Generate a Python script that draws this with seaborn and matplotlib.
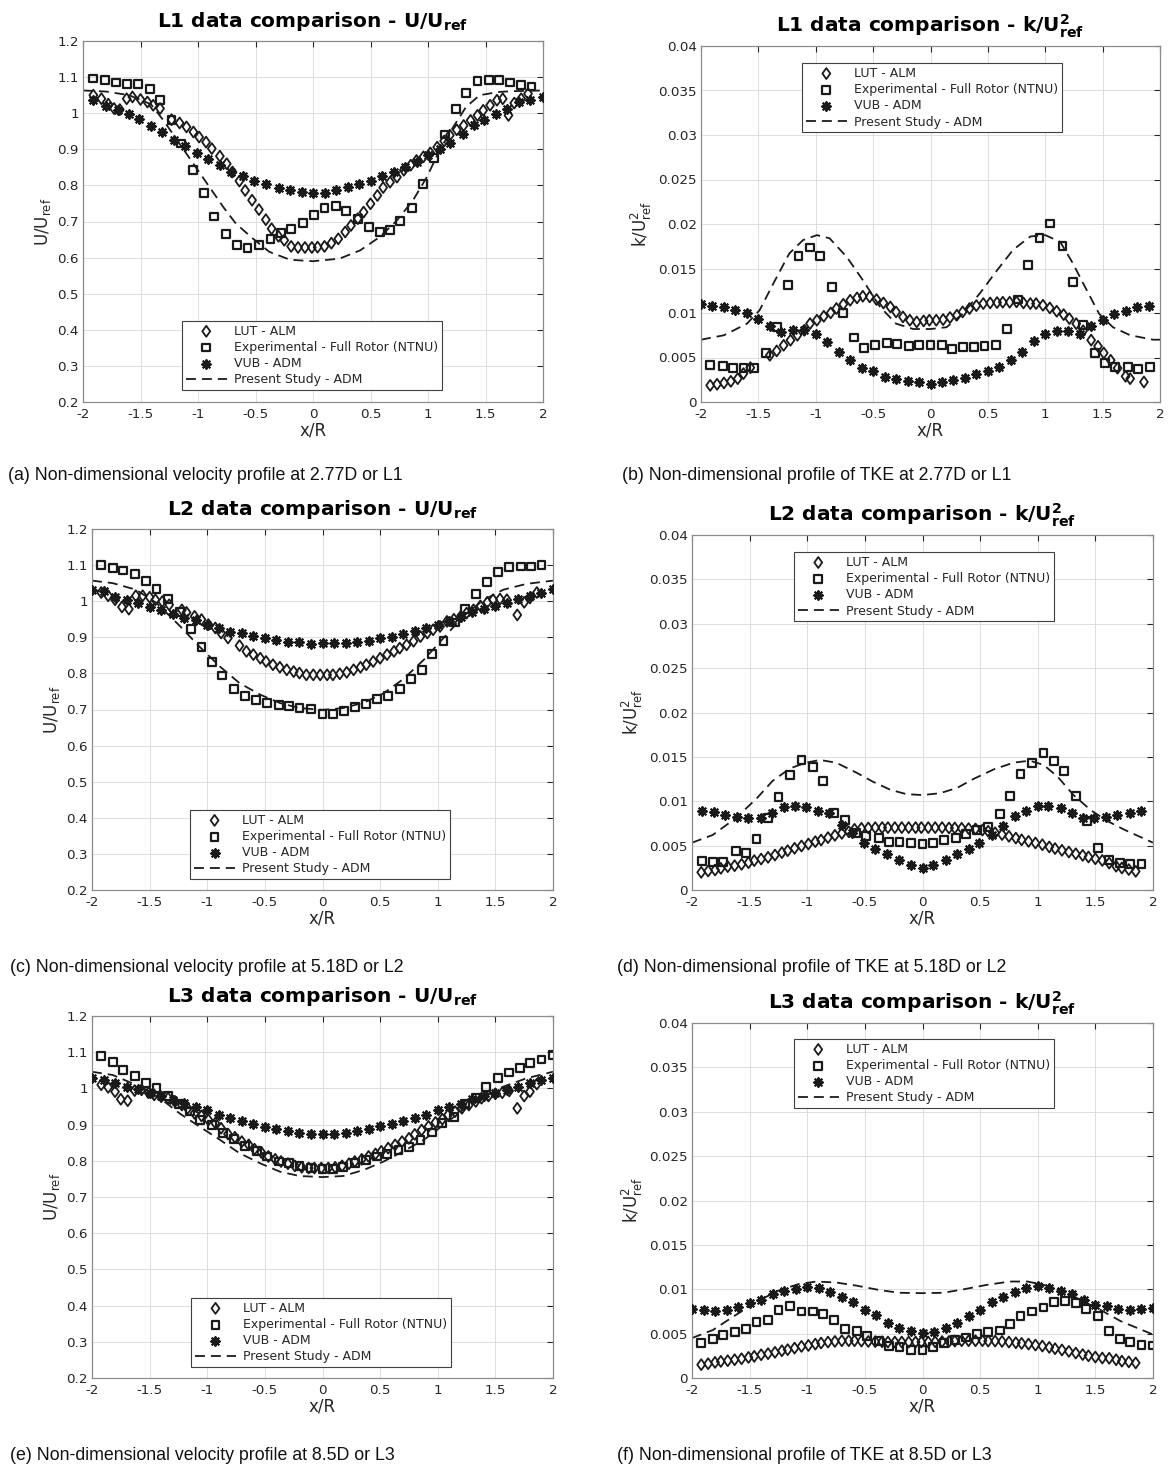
import numpy as np
import matplotlib
matplotlib.use("Agg")
import matplotlib.pyplot as plt
import seaborn as sns
from matplotlib.path import Path
from matplotlib.ticker import MultipleLocator, FuncFormatter

# ---------------------------------------------------------------- data
grid_41 = [-2.0, -1.9, -1.8, -1.7, -1.6, -1.5, -1.4, -1.3, -1.2, -1.1, -1.0,
           -0.9, -0.8, -0.7, -0.6, -0.5, -0.4, -0.3, -0.2, -0.1, 0.0,
           0.1, 0.2, 0.3, 0.4, 0.5, 0.6, 0.7, 0.8, 0.9, 1.0,
           1.1, 1.2, 1.3, 1.4, 1.5, 1.6, 1.7, 1.8, 1.9, 2.0]

# L1 velocity
a_lut_x = [-1.91, -1.84, -1.78, -1.73, -1.68, -1.62, -1.57, -1.50, -1.44, -1.39,
           -1.33, -1.23, -1.16, -1.10, -1.04, -0.99, -0.93, -0.88, -0.81, -0.75,
           -0.70, -0.64, -0.59, -0.53, -0.47, -0.41, -0.36, -0.30, -0.25, -0.19,
           -0.13, -0.07, -0.01, 0.04, 0.10, 0.16, 0.22, 0.28, 0.33, 0.39,
           0.44, 0.50, 0.56, 0.61, 0.67, 0.73, 0.79, 0.85, 0.90, 0.96,
           1.02, 1.08, 1.14, 1.19, 1.25, 1.31, 1.37, 1.43, 1.48, 1.54,
           1.60, 1.65, 1.70, 1.75, 1.81, 1.87]
a_lut_y = [1.050, 1.040, 1.025, 1.013, 1.010, 1.040, 1.045, 1.038, 1.031, 1.022,
           1.013, 0.982, 0.973, 0.962, 0.948, 0.934, 0.920, 0.902, 0.881, 0.860,
           0.837, 0.812, 0.786, 0.759, 0.733, 0.705, 0.680, 0.659, 0.648, 0.631,
           0.628, 0.628, 0.628, 0.629, 0.631, 0.640, 0.652, 0.671, 0.689, 0.708,
           0.726, 0.749, 0.772, 0.794, 0.809, 0.823, 0.842, 0.856, 0.869, 0.879,
           0.890, 0.906, 0.923, 0.939, 0.954, 0.966, 0.980, 0.994, 1.008, 1.022,
           1.036, 1.040, 0.994, 1.028, 1.040, 1.054]
a_exp_x = [-1.91, -1.81, -1.71, -1.62, -1.52, -1.42, -1.33, -1.23, -1.15, -1.04,
           -0.95, -0.86, -0.76, -0.66, -0.57, -0.47, -0.37, -0.28, -0.19, -0.09,
           0.01, 0.10, 0.20, 0.29, 0.39, 0.49, 0.58, 0.67, 0.76, 0.86,
           0.96, 1.05, 1.15, 1.24, 1.33, 1.43, 1.53, 1.62, 1.71, 1.81, 1.90]
a_exp_y = [1.096, 1.091, 1.085, 1.082, 1.082, 1.068, 1.036, 0.982, 0.916, 0.842,
           0.779, 0.714, 0.666, 0.636, 0.627, 0.636, 0.652, 0.668, 0.680, 0.697,
           0.719, 0.738, 0.742, 0.729, 0.708, 0.685, 0.670, 0.677, 0.701, 0.738,
           0.803, 0.877, 0.941, 1.012, 1.057, 1.089, 1.091, 1.091, 1.085, 1.077, 1.074]
a_vub_x = [-1.91, -1.80, -1.70, -1.60, -1.51, -1.41, -1.31, -1.21, -1.11, -1.01,
           -0.91, -0.81, -0.71, -0.61, -0.51, -0.41, -0.30, -0.20, -0.10, 0.00,
           0.10, 0.20, 0.30, 0.40, 0.50, 0.60, 0.70, 0.80, 0.90, 1.00,
           1.10, 1.19, 1.30, 1.40, 1.49, 1.59, 1.69, 1.79, 1.89, 2.00]
a_vub_y = [1.036, 1.019, 1.010, 0.999, 0.985, 0.964, 0.948, 0.927, 0.908, 0.890,
           0.874, 0.856, 0.837, 0.825, 0.812, 0.803, 0.794, 0.788, 0.782, 0.780,
           0.780, 0.788, 0.796, 0.803, 0.812, 0.825, 0.837, 0.851, 0.866, 0.883,
           0.901, 0.917, 0.943, 0.966, 0.982, 0.999, 1.013, 1.031, 1.036, 1.045]
a_adm_x = [-2.0, -1.8, -1.6, -1.41, -1.3, -1.2, -1.09, -0.91, -0.78, -0.67, -0.52,
           -0.38, -0.2, 0.0, 0.23, 0.41, 0.58, 0.73, 0.87, 0.99, 1.10, 1.22, 1.33,
           1.45, 1.62, 1.74, 2.0]
a_adm_y = [1.063, 1.060, 1.050, 1.025, 0.980, 0.934, 0.883, 0.800, 0.740, 0.694, 0.652,
           0.616, 0.594, 0.590, 0.597, 0.620, 0.657, 0.703, 0.759, 0.823, 0.897, 0.962,
           1.017, 1.050, 1.059, 1.061, 1.063]

# L1 TKE
b_lut_x = [-1.92, -1.86, -1.80, -1.74, -1.68, -1.63, -1.57, -1.40, -1.34, -1.28,
           -1.22, -1.16, -1.10, -1.05, -0.99, -0.93, -0.87, -0.82, -0.76, -0.70,
           -0.64, -0.59, -0.53, -0.47, -0.41, -0.35, -0.30, -0.24, -0.18, -0.12,
           -0.06, -0.01, 0.05, 0.11, 0.17, 0.23, 0.28, 0.34, 0.40, 0.46,
           0.52, 0.58, 0.63, 0.69, 0.75, 0.81, 0.87, 0.92, 0.98, 1.04,
           1.10, 1.16, 1.21, 1.27, 1.33, 1.40, 1.46, 1.51, 1.57, 1.63,
           1.70, 1.74, 1.86]
b_lut_y = [0.00187, 0.00199, 0.00214, 0.00232, 0.00262, 0.00319, 0.00386, 0.00525, 0.00574, 0.00637,
           0.00694, 0.00750, 0.00806, 0.00881, 0.00919, 0.00963, 0.01001, 0.01050, 0.01098, 0.01143,
           0.01170, 0.01188, 0.01181, 0.01151, 0.01113, 0.01068, 0.01012, 0.00956, 0.00919, 0.00900,
           0.00911, 0.00919, 0.00919, 0.00926, 0.00949, 0.00975, 0.01012, 0.01050, 0.01083, 0.01106,
           0.01113, 0.01117, 0.01121, 0.01121, 0.01125, 0.01113, 0.01106, 0.01106, 0.01087, 0.01057,
           0.01020, 0.00982, 0.00937, 0.00880, 0.00800, 0.00695, 0.00626, 0.00551, 0.00469, 0.00380,
           0.00289, 0.00262, 0.00225]
b_exp_x = [-1.92, -1.81, -1.72, -1.63, -1.54, -1.43, -1.34, -1.24, -1.15, -1.05,
           -0.96, -0.86, -0.76, -0.67, -0.58, -0.48, -0.38, -0.29, -0.19, -0.10,
           0.00, 0.10, 0.19, 0.28, 0.38, 0.47, 0.57, 0.67, 0.76, 0.85,
           0.95, 1.04, 1.15, 1.24, 1.33, 1.43, 1.52, 1.61, 1.72, 1.81, 1.91]
b_exp_y = [0.00420, 0.00405, 0.00382, 0.00382, 0.00386, 0.00551, 0.00844, 0.01312, 0.01642, 0.01736,
           0.01639, 0.01294, 0.01001, 0.00724, 0.00611, 0.00645, 0.00664, 0.00656, 0.00630, 0.00645,
           0.00645, 0.00641, 0.00600, 0.00619, 0.00619, 0.00626, 0.00645, 0.00817, 0.01151, 0.01537,
           0.01841, 0.02006, 0.01751, 0.01349, 0.00862, 0.00551, 0.00439, 0.00394, 0.00394, 0.00375, 0.00390]
b_vub_y = [0.01098, 0.01083, 0.01068, 0.01038, 0.01001, 0.00937, 0.00855, 0.00784, 0.00806, 0.00814,
           0.00769, 0.00675, 0.00562, 0.00469, 0.00386, 0.00349, 0.00281, 0.00255, 0.00236, 0.00225,
           0.00199, 0.00225, 0.00251, 0.00270, 0.00311, 0.00349, 0.00394, 0.00469, 0.00562, 0.00686,
           0.00769, 0.00799, 0.00799, 0.00761, 0.00851, 0.00926, 0.00993, 0.01023, 0.01068, 0.01076]
b_adm_x = [-2.0, -1.8, -1.6, -1.49, -1.37, -1.23, -1.11, -0.99, -0.88, -0.73,
           -0.59, -0.44, -0.30, -0.15, 0.0, 0.14, 0.28, 0.43, 0.58, 0.72,
           0.87, 1.0, 1.13, 1.24, 1.36, 1.47, 1.59, 1.74, 1.94, 2.0]
b_adm_y = [0.0070, 0.0075, 0.0088, 0.0103, 0.0133, 0.0167, 0.0182, 0.01875, 0.0184, 0.0163,
           0.0137, 0.0107, 0.0088, 0.0082, 0.0082, 0.0084, 0.0099, 0.0122, 0.0148, 0.0171,
           0.0186, 0.01875, 0.0180, 0.0156, 0.0126, 0.0099, 0.0084, 0.0075, 0.0070, 0.0070]

# L2 velocity
c_lut_x = [-1.92, -1.86, -1.80, -1.74, -1.68, -1.62, -1.56, -1.50, -1.45, -1.39,
           -1.33, -1.22, -1.18, -1.11, -1.05, -0.99, -0.93, -0.88, -0.82, -0.72,
           -0.66, -0.60, -0.54, -0.49, -0.43, -0.37, -0.31, -0.25, -0.20, -0.14,
           -0.08, -0.02, 0.04, 0.09, 0.15, 0.21, 0.27, 0.33, 0.38, 0.44,
           0.50, 0.56, 0.62, 0.67, 0.73, 0.79, 0.85, 0.91, 0.96, 1.02,
           1.08, 1.14, 1.20, 1.25, 1.31, 1.37, 1.43, 1.48, 1.54, 1.60,
           1.69, 1.75, 1.80, 1.86]
c_lut_y = [1.024, 1.015, 1.004, 0.984, 0.978, 1.015, 1.015, 1.011, 1.004, 0.999,
           0.990, 0.976, 0.969, 0.958, 0.949, 0.935, 0.926, 0.912, 0.898, 0.877,
           0.861, 0.852, 0.842, 0.833, 0.824, 0.817, 0.810, 0.805, 0.801, 0.796,
           0.796, 0.796, 0.796, 0.796, 0.799, 0.803, 0.810, 0.817, 0.824, 0.833,
           0.842, 0.852, 0.861, 0.870, 0.879, 0.889, 0.902, 0.912, 0.921, 0.930,
           0.944, 0.950, 0.958, 0.967, 0.976, 0.987, 0.997, 1.004, 1.006, 1.004,
           0.962, 0.997, 1.009, 1.024]
c_exp_x = [-1.92, -1.82, -1.73, -1.63, -1.53, -1.44, -1.34, -1.24, -1.14, -1.05,
           -0.96, -0.87, -0.77, -0.67, -0.58, -0.48, -0.38, -0.29, -0.20, -0.10,
           0.00, 0.09, 0.19, 0.28, 0.38, 0.47, 0.57, 0.67, 0.77, 0.86,
           0.95, 1.05, 1.15, 1.24, 1.33, 1.43, 1.52, 1.62, 1.72, 1.81, 1.90]
c_exp_y = [1.101, 1.093, 1.085, 1.075, 1.057, 1.034, 1.007, 0.970, 0.923, 0.872,
           0.831, 0.794, 0.756, 0.738, 0.727, 0.718, 0.713, 0.710, 0.704, 0.701,
           0.688, 0.688, 0.697, 0.708, 0.716, 0.729, 0.738, 0.756, 0.785, 0.810,
           0.853, 0.889, 0.941, 0.978, 1.021, 1.052, 1.080, 1.094, 1.096, 1.096, 1.101]
c_vub_y = [1.032, 1.027, 1.013, 1.004, 0.996, 0.983, 0.976, 0.964, 0.953, 0.947,
           0.935, 0.926, 0.916, 0.912, 0.904, 0.898, 0.893, 0.886, 0.886, 0.882,
           0.884, 0.884, 0.884, 0.888, 0.891, 0.898, 0.902, 0.910, 0.918, 0.926,
           0.935, 0.944, 0.956, 0.969, 0.978, 0.987, 0.996, 1.006, 1.015, 1.022, 1.033]
c_adm_x = [-2.0, -1.82, -1.62, -1.44, -1.24, -1.07, -0.89, -0.72, -0.54, -0.37, -0.20, 0.0,
           0.18, 0.36, 0.53, 0.70, 0.88, 1.05, 1.22, 1.40, 1.57, 1.77, 2.0]
c_adm_y = [1.057, 1.050, 1.032, 0.995, 0.932, 0.875, 0.819, 0.773, 0.741, 0.718, 0.704, 0.699,
           0.704, 0.719, 0.745, 0.784, 0.838, 0.898, 0.958, 1.004, 1.032, 1.048, 1.057]

# LUT grid used for the L2/L3 TKE profiles
tke_lut_x = [-1.92, -1.86, -1.80, -1.75, -1.69, -1.63, -1.57, -1.51, -1.46, -1.40,
             -1.34, -1.28, -1.22, -1.17, -1.11, -1.05, -0.99, -0.93, -0.88, -0.82,
             -0.76, -0.70, -0.64, -0.59, -0.53, -0.47, -0.41, -0.35, -0.30, -0.24,
             -0.18, -0.12, -0.06, -0.01, 0.05, 0.11, 0.17, 0.23, 0.28, 0.34,
             0.40, 0.46, 0.52, 0.57, 0.63, 0.69, 0.75, 0.81, 0.86, 0.92,
             0.98, 1.04, 1.10, 1.15, 1.21, 1.27, 1.33, 1.39, 1.44, 1.50,
             1.56, 1.62, 1.68, 1.73, 1.79, 1.85]

# L2 TKE
d_lut_y = [0.00199, 0.00214, 0.00225, 0.00244, 0.00263, 0.00274, 0.00289, 0.00308, 0.00331, 0.00349,
           0.00368, 0.00394, 0.00421, 0.00443, 0.00470, 0.00496, 0.00518, 0.00545, 0.00563, 0.00590,
           0.00616, 0.00638, 0.00657, 0.00684, 0.00695, 0.00699, 0.00703, 0.00703, 0.00703, 0.00703,
           0.00703, 0.00703, 0.00703, 0.00703, 0.00703, 0.00703, 0.00703, 0.00699, 0.00699, 0.00695,
           0.00692, 0.00688, 0.00675, 0.00662, 0.00645, 0.00625, 0.00605, 0.00585, 0.00565, 0.00548,
           0.00530, 0.00510, 0.00485, 0.00467, 0.00447, 0.00428, 0.00408, 0.00390, 0.00372, 0.00352,
           0.00333, 0.00303, 0.00268, 0.00248, 0.00230, 0.00210]
d_exp_x = [-1.91, -1.82, -1.73, -1.62, -1.53, -1.44, -1.34, -1.25, -1.15, -1.05,
           -0.95, -0.86, -0.77, -0.67, -0.58, -0.49, -0.38, -0.29, -0.20, -0.10,
           0.00, 0.09, 0.19, 0.29, 0.38, 0.47, 0.57, 0.67, 0.76, 0.85,
           0.95, 1.05, 1.14, 1.23, 1.33, 1.43, 1.52, 1.62, 1.71, 1.80, 1.90]
d_exp_y = [0.00331, 0.00319, 0.00319, 0.00439, 0.00421, 0.00575, 0.00808, 0.01052, 0.01296, 0.01465,
           0.01390, 0.01232, 0.00864, 0.00789, 0.00646, 0.00608, 0.00582, 0.00544, 0.00544, 0.00533,
           0.00518, 0.00526, 0.00563, 0.00589, 0.00627, 0.00676, 0.00713, 0.00857, 0.01063, 0.01303,
           0.01435, 0.01547, 0.01453, 0.01341, 0.01059, 0.00777, 0.00477, 0.00338, 0.00308, 0.00289, 0.00293]
d_vub_x = [-1.91, -1.81, -1.71, -1.61, -1.51, -1.40, -1.31, -1.20, -1.11, -1.01,
           -0.91, -0.81, -0.70, -0.61, -0.51, -0.41, -0.31, -0.20, -0.10, 0.00,
           0.09, 0.20, 0.30, 0.40, 0.49, 0.60, 0.70, 0.80, 0.90, 1.00,
           1.09, 1.20, 1.30, 1.39, 1.49, 1.59, 1.69, 1.80, 1.90]
d_vub_y = [0.00894, 0.00875, 0.00845, 0.00826, 0.00815, 0.00815, 0.00871, 0.00932, 0.00947, 0.00939,
           0.00894, 0.00864, 0.00732, 0.00639, 0.00533, 0.00458, 0.00402, 0.00338, 0.00282, 0.00244,
           0.00282, 0.00338, 0.00402, 0.00458, 0.00533, 0.00620, 0.00721, 0.00834, 0.00894, 0.00947,
           0.00947, 0.00920, 0.00871, 0.00808, 0.00815, 0.00826, 0.00845, 0.00871, 0.00894]
d_adm_x = [-2.0, -1.82, -1.62, -1.44, -1.30, -1.15, -1.01, -0.89, -0.75, -0.57, -0.43, -0.28,
           -0.14, 0.0, 0.15, 0.30, 0.44, 0.62, 0.79, 0.93, 1.05, 1.17, 1.31, 1.46, 1.60, 1.75, 2.0]
d_adm_y = [0.00533, 0.0062, 0.0081, 0.0103, 0.0123, 0.0137, 0.01435, 0.01465, 0.01435, 0.0132, 0.0122, 0.0113,
           0.0108, 0.0107, 0.0109, 0.0115, 0.0125, 0.0136, 0.01435, 0.01457, 0.0141, 0.0128, 0.0107, 0.0090,
           0.0078, 0.0068, 0.00533]

# L3 velocity
e_lut_x = [-1.92, -1.86, -1.80, -1.75, -1.69, -1.63, -1.57, -1.51, -1.46, -1.40,
           -1.34, -1.28, -1.22, -1.17, -1.11, -1.05, -0.99, -0.93, -0.88, -0.82,
           -0.76, -0.70, -0.64, -0.59, -0.53, -0.47, -0.41, -0.36, -0.30, -0.24,
           -0.18, -0.12, -0.07, -0.01, 0.05, 0.11, 0.17, 0.23, 0.28, 0.34,
           0.40, 0.46, 0.51, 0.57, 0.63, 0.69, 0.75, 0.80, 0.86, 0.92,
           0.98, 1.04, 1.09, 1.15, 1.21, 1.27, 1.33, 1.38, 1.44, 1.50,
           1.56, 1.62, 1.69, 1.75, 1.80, 1.86]
e_lut_y = [1.010, 1.003, 0.991, 0.970, 0.966, 0.994, 0.996, 0.988, 0.982, 0.977,
           0.973, 0.964, 0.954, 0.945, 0.931, 0.924, 0.913, 0.904, 0.890, 0.874,
           0.865, 0.853, 0.844, 0.832, 0.823, 0.812, 0.804, 0.798, 0.792, 0.786,
           0.782, 0.780, 0.780, 0.780, 0.780, 0.782, 0.786, 0.792, 0.798, 0.804,
           0.812, 0.819, 0.826, 0.835, 0.844, 0.853, 0.862, 0.873, 0.885, 0.895,
           0.906, 0.915, 0.927, 0.936, 0.945, 0.954, 0.964, 0.973, 0.979, 0.985,
           0.988, 0.993, 0.945, 0.979, 0.991, 1.012]
e_exp_x = [-1.92, -1.82, -1.73, -1.63, -1.53, -1.44, -1.34, -1.25, -1.15, -1.06,
           -0.96, -0.86, -0.77, -0.67, -0.57, -0.48, -0.38, -0.29, -0.20, -0.10,
           0.00, 0.09, 0.18, 0.28, 0.38, 0.47, 0.56, 0.66, 0.75, 0.85,
           0.95, 1.04, 1.14, 1.24, 1.33, 1.42, 1.52, 1.62, 1.71, 1.80, 1.90, 2.00]
e_exp_y = [1.090, 1.074, 1.051, 1.034, 1.014, 1.000, 0.979, 0.956, 0.936, 0.913,
           0.899, 0.876, 0.860, 0.841, 0.826, 0.812, 0.798, 0.793, 0.786, 0.780,
           0.777, 0.777, 0.784, 0.795, 0.803, 0.812, 0.819, 0.830, 0.839, 0.858,
           0.878, 0.904, 0.922, 0.956, 0.973, 1.005, 1.028, 1.044, 1.056, 1.069, 1.080, 1.092]
e_vub_y = [1.030, 1.022, 1.014, 1.005, 0.998, 0.988, 0.979, 0.968, 0.959, 0.948,
           0.941, 0.927, 0.918, 0.910, 0.902, 0.893, 0.888, 0.881, 0.876, 0.874,
           0.874, 0.874, 0.876, 0.881, 0.887, 0.895, 0.902, 0.910, 0.918, 0.927,
           0.941, 0.950, 0.957, 0.970, 0.979, 0.988, 0.996, 1.005, 1.014, 1.022, 1.030]
e_adm_x = [-2.0, -1.82, -1.62, -1.41, -1.24, -1.07, -0.89, -0.72, -0.54, -0.37, -0.20, 0.0,
           0.18, 0.36, 0.53, 0.70, 0.88, 1.05, 1.22, 1.40, 1.57, 1.77, 2.0]
e_adm_y = [1.046, 1.037, 1.010, 0.973, 0.931, 0.895, 0.858, 0.821, 0.793, 0.770, 0.758, 0.755,
           0.758, 0.775, 0.798, 0.826, 0.858, 0.899, 0.941, 0.977, 1.005, 1.028, 1.046]

# L3 TKE
f_lut_y = [0.00150, 0.00161, 0.00176, 0.00187, 0.00195, 0.00206, 0.00217, 0.00232, 0.00244, 0.00262,
           0.00274, 0.00289, 0.00307, 0.00319, 0.00337, 0.00356, 0.00367, 0.00382, 0.00394, 0.00405,
           0.00412, 0.00420, 0.00420, 0.00420, 0.00416, 0.00412, 0.00410, 0.00408, 0.00405, 0.00405,
           0.00405, 0.00405, 0.00405, 0.00405, 0.00405, 0.00408, 0.00410, 0.00412, 0.00416, 0.00420,
           0.00420, 0.00420, 0.00420, 0.00416, 0.00416, 0.00412, 0.00405, 0.00397, 0.00390, 0.00382,
           0.00371, 0.00360, 0.00345, 0.00330, 0.00316, 0.00300, 0.00281, 0.00264, 0.00250, 0.00236,
           0.00225, 0.00222, 0.00206, 0.00190, 0.00182, 0.00170]
f_exp_x = [-1.92, -1.82, -1.73, -1.63, -1.53, -1.44, -1.34, -1.25, -1.15, -1.05,
           -0.95, -0.86, -0.77, -0.67, -0.57, -0.48, -0.38, -0.29, -0.20, -0.10,
           0.00, 0.09, 0.19, 0.28, 0.38, 0.47, 0.57, 0.67, 0.76, 0.85,
           0.95, 1.05, 1.14, 1.24, 1.33, 1.42, 1.52, 1.62, 1.71, 1.80, 1.90, 2.00]
f_exp_y = [0.00394, 0.00442, 0.00487, 0.00517, 0.00555, 0.00630, 0.00656, 0.00769, 0.00814, 0.00750,
           0.00750, 0.00724, 0.00656, 0.00555, 0.00525, 0.00469, 0.00420, 0.00364, 0.00345, 0.00319,
           0.00319, 0.00345, 0.00394, 0.00431, 0.00457, 0.00499, 0.00514, 0.00536, 0.00607, 0.00694,
           0.00750, 0.00795, 0.00855, 0.00870, 0.00844, 0.00776, 0.00694, 0.00525, 0.00439, 0.00405,
           0.00375, 0.00367]
f_vub_y = [0.00776, 0.00769, 0.00757, 0.00769, 0.00795, 0.00844, 0.00874, 0.00948, 0.00975, 0.01001,
           0.01023, 0.01012, 0.00967, 0.00911, 0.00851, 0.00761, 0.00705, 0.00619, 0.00562, 0.00525,
           0.00506, 0.00517, 0.00562, 0.00619, 0.00701, 0.00761, 0.00851, 0.00911, 0.00967, 0.01012,
           0.01031, 0.01012, 0.00982, 0.00948, 0.00881, 0.00825, 0.00806, 0.00780, 0.00769, 0.00776,
           0.00787]
f_adm_x = [-2.0, -1.82, -1.62, -1.41, -1.24, -1.07, -0.92, -0.75, -0.57, -0.37, -0.20, 0.0,
           0.18, 0.36, 0.56, 0.76, 0.91, 1.05, 1.20, 1.37, 1.54, 1.72, 2.0]
f_adm_y = [0.0045, 0.0054, 0.0071, 0.0088, 0.0099, 0.0106, 0.01087, 0.01076, 0.0104, 0.0099, 0.0096, 0.00956,
           0.0096, 0.0100, 0.0105, 0.01087, 0.01087, 0.0105, 0.0099, 0.0088, 0.0077, 0.0064, 0.0049]

series_labels = ["LUT - ALM", "Experimental - Full Rotor (NTNU)", "VUB - ADM",
                 "Present Study - ADM"]

# ---------------------------------------------------------------- style
sns.set_theme(style="white")
plt.rcParams.update({
    "font.family": ["DejaVu Sans"],
    "mathtext.fontset": "dejavusans",
    "axes.unicode_minus": False,
    "axes.edgecolor": "#8c8c8c",
    "axes.linewidth": 0.9,
    "text.color": "#000000",
})

W, H = 1168, 1468
fig = plt.figure(figsize=(W / 100, H / 100), dpi=100)
fig.patch.set_facecolor("white")

DIAMOND = Path([(0, 1), (0.72, 0), (0, -1), (-0.72, 0), (0, 1)], closed=True)
STAR = (8, 2, 0)
DASH = (0, (5.5, 3.3))

fmt = FuncFormatter(lambda v, p: f"{v:g}")


def make_axes(left, top, right, bottom):
    return fig.add_axes([left / W, 1 - bottom / H, (right - left) / W, (bottom - top) / H])


def draw_panel(ax, lut, exp, vub, adm, kind, level, legend_loc, legend_anchor):
    sns.lineplot(x=adm[0], y=adm[1], ax=ax, color="k", linewidth=1.3,
                 linestyle=DASH, sort=False, estimator=None,
                 label=series_labels[3], zorder=2)
    sns.scatterplot(x=lut[0], y=lut[1], ax=ax, marker=DIAMOND, s=62,
                    facecolor="none", edgecolor="k", linewidth=1.3,
                    label=series_labels[0], zorder=3)
    sns.scatterplot(x=exp[0], y=exp[1], ax=ax, marker="s", s=32,
                    facecolor="none", edgecolor="k", linewidth=1.6,
                    label=series_labels[1], zorder=3)
    sns.scatterplot(x=vub[0], y=vub[1], ax=ax, marker=STAR, s=38,
                    color="k", linewidth=1.5,
                    label=series_labels[2], zorder=3)

    ax.set_xlim(-2, 2)
    ax.xaxis.set_major_locator(MultipleLocator(0.5))
    ax.xaxis.set_major_formatter(fmt)
    if kind == "U":
        ax.set_ylim(0.2, 1.2)
        ax.yaxis.set_major_locator(MultipleLocator(0.1))
        ax.set_ylabel(r"U/U$_{\mathrm{ref}}$", fontsize=12, color="#262626", labelpad=3)
        title = f"L{level} data comparison - U/U" + r"$_{\mathbf{ref}}$"
    else:
        ax.set_ylim(0, 0.04)
        ax.yaxis.set_major_locator(MultipleLocator(0.005))
        ax.set_ylabel(r"k/U$^{2}_{\mathrm{ref}}$", fontsize=12, color="#262626", labelpad=3)
        title = f"L{level} data comparison - k/U" + r"$^{\mathbf{2}}_{\mathbf{ref}}$"
    ax.yaxis.set_major_formatter(fmt)
    ax.set_xlabel("x/R", fontsize=12, color="#262626", labelpad=1)
    ax.set_title(title, fontsize=14.5, fontweight="bold", pad=10)

    ax.grid(True, color="#dedede", linewidth=0.7)
    ax.set_axisbelow(True)
    ax.tick_params(direction="in", length=4, width=0.8, top=True, right=True,
                   colors="#262626", labelsize=9.7, pad=3)
    ax.tick_params(axis="x", pad=4)

    handles, labels = ax.get_legend_handles_labels()
    order = [labels.index(l) for l in series_labels]
    leg = ax.legend([handles[i] for i in order], [labels[i] for i in order],
                    loc=legend_loc, bbox_to_anchor=legend_anchor, fontsize=9,
                    frameon=True, fancybox=False, framealpha=1, edgecolor="#404040",
                    handlelength=3.3, handletextpad=0.55, labelspacing=0.26,
                    borderpad=0.3, borderaxespad=0, scatterpoints=1)
    leg.get_frame().set_linewidth(0.8)
    for t in leg.get_texts():
        t.set_color("#262626")


panels = [
    # axes box (left, top, right, bottom) in pixels
    dict(box=(83, 41, 543, 402), lut=(a_lut_x, a_lut_y), exp=(a_exp_x, a_exp_y),
         vub=(a_vub_x, a_vub_y), adm=(a_adm_x, a_adm_y), kind="U", level=1,
         loc="lower left", anchor=(0.215, 0.033)),
    dict(box=(701, 46, 1160, 402), lut=(b_lut_x, b_lut_y), exp=(b_exp_x, b_exp_y),
         vub=(grid_41[:-1], b_vub_y), adm=(b_adm_x, b_adm_y), kind="k", level=1,
         loc="upper left", anchor=(0.220, 0.952)),
    dict(box=(92, 529, 553, 890), lut=(c_lut_x, c_lut_y), exp=(c_exp_x, c_exp_y),
         vub=(grid_41, c_vub_y), adm=(c_adm_x, c_adm_y), kind="U", level=2,
         loc="lower left", anchor=(0.213, 0.030)),
    dict(box=(692, 535, 1153, 890), lut=(tke_lut_x, d_lut_y), exp=(d_exp_x, d_exp_y),
         vub=(d_vub_x, d_vub_y), adm=(d_adm_x, d_adm_y), kind="k", level=2,
         loc="upper left", anchor=(0.221, 0.952)),
    dict(box=(92, 1016, 553, 1378), lut=(e_lut_x, e_lut_y), exp=(e_exp_x, e_exp_y),
         vub=(grid_41, e_vub_y), adm=(e_adm_x, e_adm_y), kind="U", level=3,
         loc="lower left", anchor=(0.215, 0.030)),
    dict(box=(692, 1023, 1153, 1378), lut=(tke_lut_x, f_lut_y), exp=(f_exp_x, f_exp_y),
         vub=(grid_41, f_vub_y), adm=(f_adm_x, f_adm_y), kind="k", level=3,
         loc="upper left", anchor=(0.221, 0.955)),
]

for p in panels:
    ax = make_axes(*p["box"])
    draw_panel(ax, p["lut"], p["exp"], p["vub"], p["adm"], p["kind"], p["level"],
               p["loc"], p["anchor"])

captions = [
    (8, 476, "(a) Non-dimensional velocity profile at 2.77D or L1"),
    (622, 476, "(b) Non-dimensional profile of TKE at 2.77D or L1"),
    (10, 967, "(c) Non-dimensional velocity profile at 5.18D or L2"),
    (617, 967, "(d) Non-dimensional profile of TKE at 5.18D or L2"),
    (10, 1456, "(e) Non-dimensional velocity profile at 8.5D or L3"),
    (617, 1456, "(f) Non-dimensional profile of TKE at 8.5D or L3"),
]
for x, y, text in captions:
    fig.text(x / W, 1 - y / H, text, fontsize=12.8, family="Liberation Sans",
             va="center", ha="left", color="#111111")

fig.savefig("out.png", dpi=100, facecolor="white")
